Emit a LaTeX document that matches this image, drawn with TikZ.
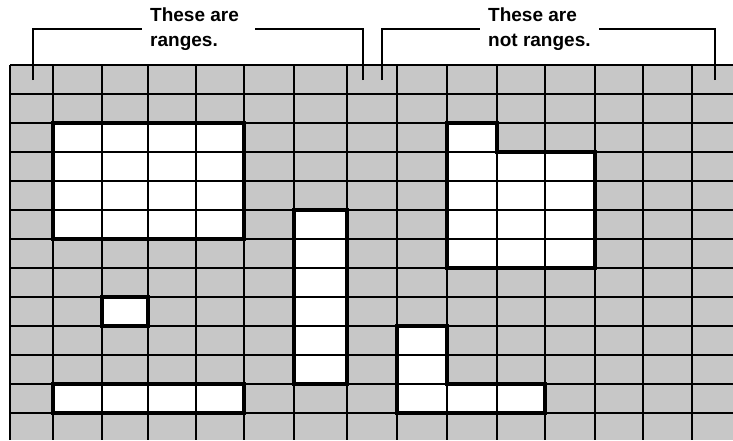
\documentclass[tikz,border=0pt]{standalone}
\usepackage{fontspec}
\setmainfont{Liberation Sans}
\usetikzlibrary{calc}

\begin{document}
\begin{tikzpicture}[x=1pt, y=-1pt,
    gridline/.style={line width=1.1pt},
    rangeedge/.style={line width=3.4pt, line join=miter},
    bracketline/.style={line width=1.6pt},
    tag/.style={font=\fontsize{19}{25}\selectfont\bfseries, align=left, anchor=west, inner xsep=8pt, inner ysep=0pt}]
    \useasboundingbox (0,0) rectangle (733,440);

    % Shaded sheet
    \fill[black!22] (10,65) rectangle (733,440);

    % Cells that are left blank
    \fill[white] (53,123) rectangle (244,239);
    \fill[white] (102,297) rectangle (148,326);
    \fill[white] (53,384) rectangle (244,413);
    \fill[white] (294,210) rectangle (347,384);
    \fill[white] (447,123) -- (497,123) -- (497,152) -- (595,152) -- (595,268) -- (447,268) -- cycle;
    \fill[white] (397,326) -- (447,326) -- (447,384) -- (545,384) -- (545,413) -- (397,413) -- cycle;

    % Grid
    \foreach \gx in {10,53,102,148,196,244,294,347,397,447,497,545,595,643,692}
        \draw[gridline] (\gx,65) -- (\gx,440);
    \foreach \r in {0,...,12}
        \draw[gridline] (10,65+29*\r) -- (733,65+29*\r);

    % Ranges
    \draw[rangeedge] (53,123) rectangle (244,239);
    \draw[rangeedge] (102,297) rectangle (148,326);
    \draw[rangeedge] (53,384) rectangle (244,413);
    \draw[rangeedge] (294,210) rectangle (347,384);

    % Not ranges
    \draw[rangeedge] (447,123) -- (497,123) -- (497,152) -- (595,152) -- (595,268) -- (447,268) -- cycle;
    \draw[rangeedge] (397,326) -- (447,326) -- (447,384) -- (545,384) -- (545,413) -- (397,413) -- cycle;

    % Labels and brackets
    \node[tag] (isrange) at (142,29) {These are\\ranges.};
    \node[tag] (notrange) at (480,29) {These are\\not ranges.};
    \coordinate (isleft) at (33,80);
    \coordinate (isright) at (363,80);
    \coordinate (notleft) at (382,80);
    \coordinate (notright) at (715,80);
    \draw[bracketline] (isleft) |- (isrange.west);
    \draw[bracketline] (isright) |- ([xshift=8pt]isrange.east);
    \draw[bracketline] (notleft) |- (notrange.west);
    \draw[bracketline] (notright) |- (notrange.east);
\end{tikzpicture}
\end{document}
